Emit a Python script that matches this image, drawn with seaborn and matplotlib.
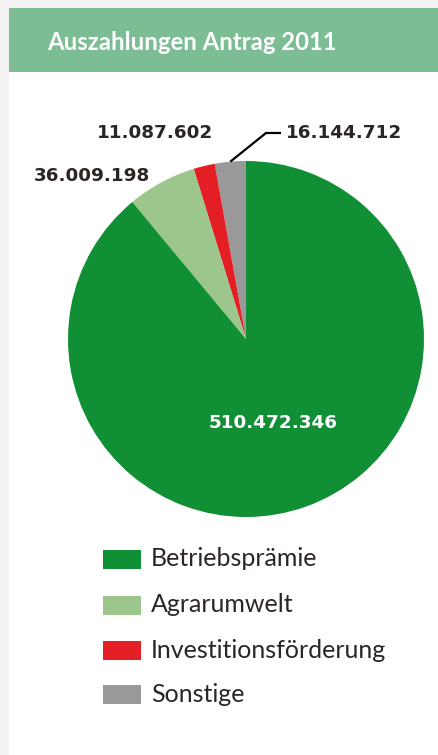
import matplotlib
matplotlib.use("Agg")
import matplotlib.pyplot as plt
import matplotlib.patches as mpatches
import seaborn as sns
import numpy as np

sns.set_theme(style="white")
plt.rcParams['font.family'] = ['Lato', 'DejaVu Sans']

# Data
categories = ["Betriebsprämie", "Agrarumwelt", "Investitionsförderung", "Sonstige"]
values = [510472346, 36009198, 11087602, 16144712]
colors = ["#118f35", "#9cc68b", "#e31e25", "#999999"]
title = "Auszahlungen Antrag 2011"

def fmt(v):
    return f"{v:,}".replace(",", ".")

W, H = 438, 755
fig = plt.figure(figsize=(W / 100, H / 100), dpi=100, facecolor="#f3f3f3")

def px(x, y):
    return x / W, 1 - y / H

# White panel and header band
fig.patches.append(mpatches.Rectangle((9 / W, 0), 1, 1 - 8 / H, transform=fig.transFigure,
                                      facecolor="white", edgecolor="none", zorder=-2))
fig.patches.append(mpatches.Rectangle((9 / W, 1 - 72 / H), 1, 64 / H, transform=fig.transFigure,
                                      facecolor="#7dbd93", edgecolor="none", zorder=-1))
fig.text(*px(47, 42), title, color="white", fontsize=17.2, fontweight="bold",
         ha="left", va="center", zorder=10)

# Pie axes
cx, cy, r = 246, 339, 178
ax = fig.add_axes([(cx - r) / W, (H - cy - r) / H, 2 * r / W, 2 * r / H])
ax.set_zorder(5)
ax.set_facecolor("none")
order = [3, 2, 1, 0]
pie_vals = [values[i] for i in order]
pie_cols = [colors[i] for i in order]
wedges, _ = ax.pie(pie_vals, colors=pie_cols, startangle=90, counterclock=True,
                   radius=1, wedgeprops=dict(linewidth=0))
ax.set_xlim(-1, 1)
ax.set_ylim(-1, 1)
ax.axis("off")

lbl_kw = dict(fontsize=13.2, fontweight="bold", color="#2b2624",
              family=["DejaVu Sans"], zorder=10)
fig.text(*px(273, 423), fmt(values[0]), ha="center", va="center",
         **{**lbl_kw, "color": "white"})
fig.text(*px(92, 176), fmt(values[1]), ha="center", va="center", **lbl_kw)
fig.text(*px(155, 133), fmt(values[2]), ha="center", va="center", **lbl_kw)
fig.text(*px(286, 133), fmt(values[3]), ha="left", va="center", **lbl_kw)

# leader line for Sonstige
w = wedges[0]
mid = np.deg2rad((w.theta1 + w.theta2) / 2)
x0, y0 = np.cos(mid), np.sin(mid)
bx, by = (266 - cx) / r, (cy - 133) / r
ex = (281 - cx) / r
ax.plot([x0, bx, ex], [y0, by, by], color="black", lw=1.6, clip_on=False,
        solid_capstyle="butt")

# Legend
rows_y = [559, 605, 650, 694]
for cat, col, yy in zip(categories, colors, rows_y):
    fig.patches.append(mpatches.Rectangle(((103) / W, 1 - (yy + 9.5) / H), 38 / W, 19 / H,
                                          transform=fig.transFigure, facecolor=col,
                                          edgecolor="none", zorder=2))
    fig.text(*px(151, yy), cat, fontsize=18, color="#2b2624", ha="left", va="center",
             zorder=10)

fig.savefig("out.png", dpi=100, facecolor=fig.get_facecolor())
